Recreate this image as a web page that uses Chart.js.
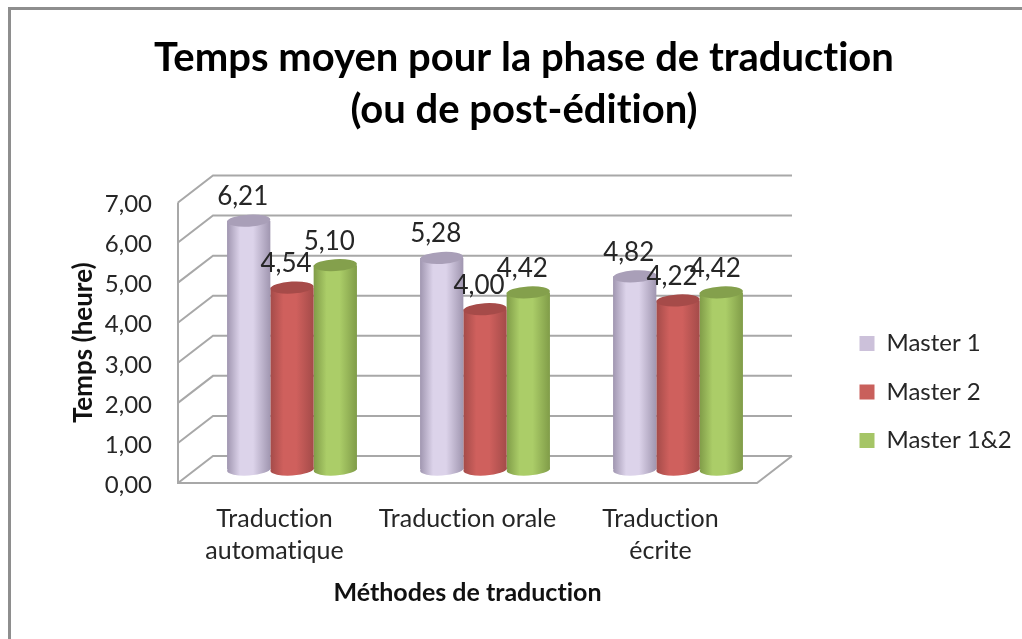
<!DOCTYPE html>
<html>
<head>
<meta charset="utf-8">
<script src="https://cdn.jsdelivr.net/npm/chart.js@4"></script>
<style>
  html, body { margin: 0; background: #fff; overflow: hidden; }
  #frame { position: absolute; left: 8px; top: 7px; width: 1100px; height: 700px; border: 3px solid #8e8e8e; box-sizing: border-box; }
  canvas { position: absolute; left: 0; top: 0; }
</style>
</head>
<body>
<div id="frame"></div>
<canvas id="chart" width="1022" height="639"></canvas>
<script>
const categories = [['Traduction', 'automatique'], 'Traduction orale', ['Traduction', 'écrite']];
const master1 = [6.21, 5.28, 4.82];
const master2 = [4.54, 4.00, 4.22];
const master12 = [5.10, 4.42, 4.42];

const FONT = 'Lato, "Open Sans", sans-serif';
const depth = { x: 35, y: 27 };
const fmt = v => v.toFixed(2).replace('.', ',');

// colours of each cylinder: edge, middle, top cap
const shades = [
  { edge: '#a096b0', mid: '#dcd3ea', cap: '#a99fb8' },
  { edge: '#a44b49', mid: '#cf605d', cap: '#a64b49' },
  { edge: '#809c48', mid: '#abcd68', cap: '#84a04c' }
];

function cylinderFill(ctx, el, s) {
  const g = ctx.createLinearGradient(el.x - el.width / 2, 0, el.x + el.width / 2, 0);
  g.addColorStop(0, s.edge);
  g.addColorStop(0.3, s.mid);
  g.addColorStop(0.6, s.mid);
  g.addColorStop(1, s.edge);
  return g;
}

function ellipse(ctx, x, y, rx, fill) {
  ctx.fillStyle = fill;
  ctx.beginPath();
  ctx.ellipse(x, y, rx, 6, -0.06, 0, Math.PI * 2);
  ctx.fill();
}

const walls3d = {
  id: 'walls3d',
  afterLayout(chart) {
    // legend and title do not follow the plot area in the reference
    chart.titleBlock.left = 0;
    chart.titleBlock.right = 1048;
    const lg = chart.legend;
    lg.left = 835;
    lg.right = lg.left + lg.width;
    lg.top = 307;
    lg.bottom = lg.top + lg.height;
  },
  beforeDraw(chart) {
    // no "ti" ligature from Lato
    chart.ctx.textRendering = 'optimizeSpeed';
  },
  beforeDatasetsDraw(chart) {
    const { ctx, chartArea: a, scales: { y } } = chart;
    ctx.save();
    ctx.strokeStyle = '#a8a8a8';
    ctx.lineWidth = 2;
    ctx.beginPath();
    y.ticks.forEach(t => {
      const py = y.getPixelForValue(t.value);
      ctx.moveTo(a.left, py);
      ctx.lineTo(a.left + depth.x, py - depth.y);
      ctx.lineTo(a.right + depth.x, py - depth.y);
    });
    ctx.moveTo(a.left, a.top);
    ctx.lineTo(a.left, a.bottom);
    ctx.lineTo(a.right, a.bottom);
    ctx.lineTo(a.right + depth.x, a.bottom - depth.y);
    ctx.stroke();
    ctx.restore();
    // bars stand in the middle of the floor
    ctx.save();
    ctx.translate(depth.x / 2, -depth.y / 2);
  },
  beforeDatasetDraw(chart, args) {
    const s = shades[args.index];
    args.meta.data.forEach(el => {
      const fill = cylinderFill(chart.ctx, el, s);
      el.options = Object.assign({}, el.options, { backgroundColor: fill, borderWidth: 0 });
      ellipse(chart.ctx, el.x, el.base, el.width / 2, fill);
    });
  },
  afterDatasetDraw(chart, args) {
    const s = shades[args.index];
    args.meta.data.forEach(el => ellipse(chart.ctx, el.x, el.y, el.width / 2, s.cap));
  },
  afterDatasetsDraw(chart) {
    const { ctx } = chart;
    ctx.font = '26px ' + FONT;
    ctx.fillStyle = '#262626';
    ctx.textAlign = 'center';
    ctx.textBaseline = 'middle';
    chart.data.datasets.forEach((ds, i) => {
      chart.getDatasetMeta(i).data.forEach((el, j) => {
        ctx.fillText(fmt(ds.data[j]), el.x - 6, el.y - 24);
      });
    });
    ctx.restore();
  }
};

new Chart(document.getElementById('chart'), {
  type: 'bar',
  data: {
    labels: categories,
    datasets: [
      { label: 'Master 1', data: master1, backgroundColor: '#ccc1da', clip: false },
      { label: 'Master 2', data: master2, backgroundColor: '#c9605c', clip: false },
      { label: 'Master 1&2', data: master12, backgroundColor: '#a5c566', clip: false }
    ]
  },
  options: {
    responsive: false,
    animation: false,
    events: [],
    layout: { autoPadding: false, padding: { left: 26, right: 265, top: 0, bottom: 0 } },
    datasets: { bar: { barPercentage: 1, categoryPercentage: 0.673, borderWidth: 0 } },
    scales: {
      x: {
        afterFit: s => { s.height = 156; },
        grid: { display: false, drawTicks: false },
        border: { display: false },
        ticks: { padding: 20, maxRotation: 0, autoSkip: false, color: '#262626', font: { family: FONT, size: 25, lineHeight: '32px' } },
        title: { display: true, text: 'Méthodes de traduction', color: '#111', padding: { top: 0, bottom: 31 }, font: { family: FONT, size: 25, weight: 'bold' } }
      },
      y: {
        min: 0,
        max: 7,
        afterFit: s => { s.width = 152; },
        grid: { display: false, drawTicks: false },
        border: { display: false },
        ticks: { stepSize: 1, padding: 26, labelOffset: 2, color: '#262626', callback: v => fmt(v), font: { family: FONT, size: 24 } },
        title: { display: true, text: 'Temps (heure)', color: '#111', padding: { top: 42, bottom: 0 }, font: { family: FONT, size: 26, weight: 'bold' } }
      }
    },
    plugins: {
      title: {
        display: true,
        text: ['Temps moyen pour la phase de traduction', '(ou de post-édition)'],
        color: '#000',
        padding: { top: 32, bottom: 66.5 },
        font: { family: FONT, size: 40, weight: 'bold', lineHeight: '52px' }
      },
      legend: {
        position: 'chartArea',
        align: 'start',
        labels: { boxWidth: 15, boxHeight: 15, padding: 24.5, color: '#262626', font: { family: FONT, size: 24 } }
      },
      tooltip: { enabled: false }
    }
  },
  plugins: [walls3d]
});
</script>
</body>
</html>
